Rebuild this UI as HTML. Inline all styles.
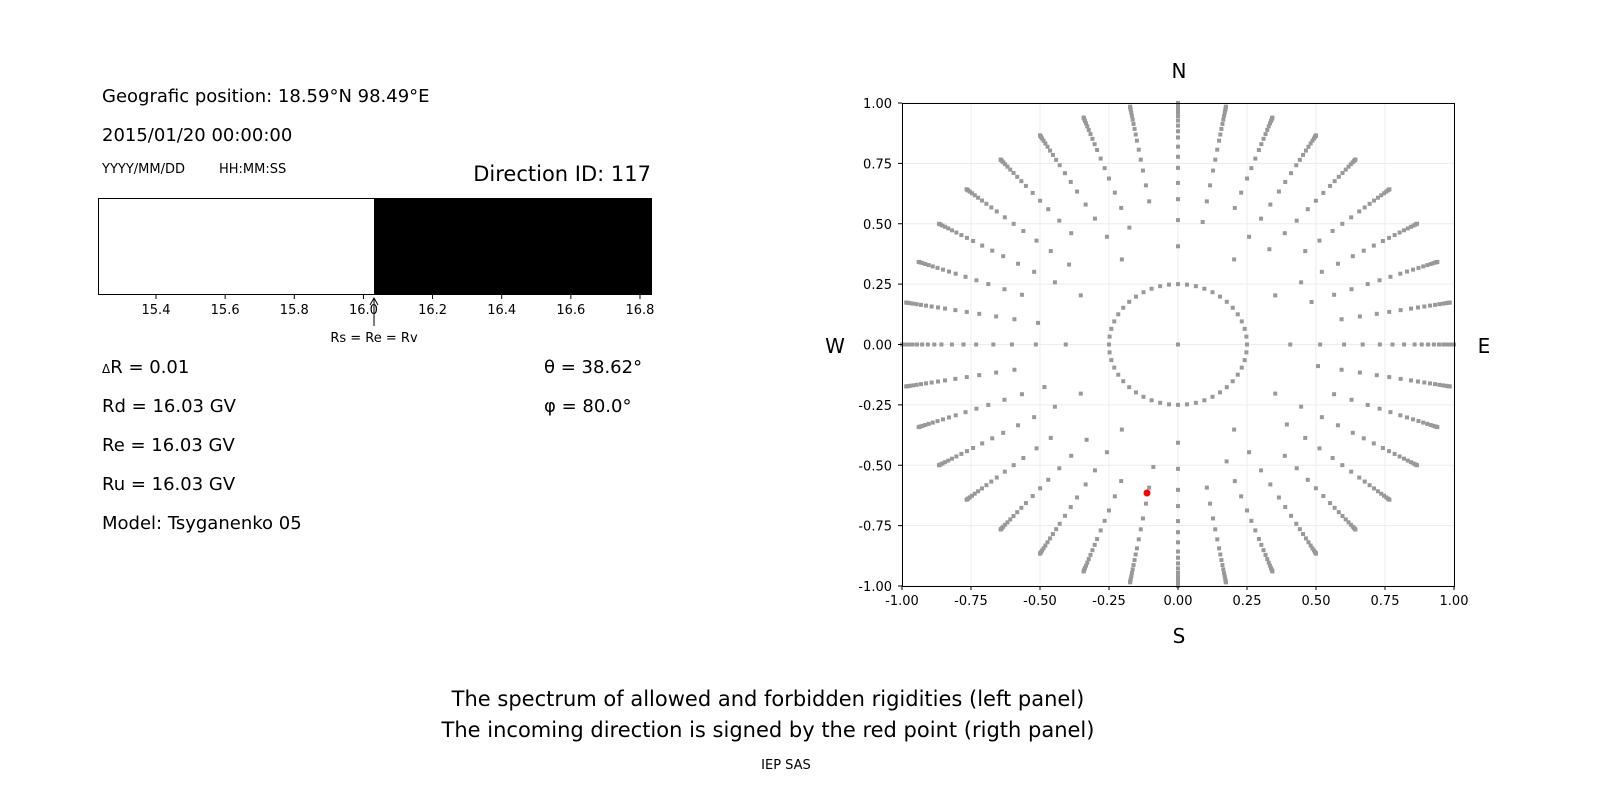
<!DOCTYPE html>
<html><head><meta charset="utf-8"><style>
body{margin:0;background:#fff;width:1600px;height:800px;overflow:hidden;font-family:"DejaVu Sans","Liberation Sans",sans-serif}
svg text{font-family:"DejaVu Sans","Liberation Sans",sans-serif}
</style></head><body>
<svg id="s" width="1600" height="800" xmlns="http://www.w3.org/2000/svg">
<rect width="1600" height="800" fill="#fff"/>
<text x="102" y="102" font-size="18">Geografic position: 18.59°N 98.49°E</text>
<text x="102" y="141" font-size="18">2015/01/20 00:00:00</text>
<text x="102" y="173" font-size="13">YYYY/MM/DD</text>
<text x="219" y="173" font-size="13">HH:MM:SS</text>
<text x="651" y="181" font-size="21" text-anchor="end">Direction ID: 117</text>
<rect x="98.5" y="198.5" width="553" height="96" fill="#fff" stroke="#000" stroke-width="1"/>
<rect x="374" y="198" width="278" height="97" fill="#000"/>
<g id="lt" font-size="13" text-anchor="middle"></g>
<line x1="374" y1="298" x2="374" y2="326" stroke="#000"/>
<path d="M370 305 L374 298 L378 305" fill="none" stroke="#000"/>
<text x="374" y="342" font-size="13" text-anchor="middle">Rs = Re = Rv</text>
<text x="102" y="373" font-size="18"><tspan font-size="12">Δ</tspan>R = 0.01</text>
<text x="102" y="412" font-size="18">Rd = 16.03 GV</text>
<text x="102" y="451" font-size="18">Re = 16.03 GV</text>
<text x="102" y="490" font-size="18">Ru = 16.03 GV</text>
<text x="102" y="529" font-size="18">Model: Tsyganenko 05</text>
<text x="544" y="373" font-size="18">θ = 38.62°</text>
<text x="544" y="412" font-size="18">φ = 80.0°</text>
<g id="grid"></g>
<g id="dots" fill="#999"></g>
<circle cx="1147" cy="493" r="3.5" fill="#f00"/>
<rect x="902.5" y="103.5" width="552" height="483" fill="none" stroke="#000"/>
<g id="rt" font-size="13"></g>
<text x="1179" y="78" font-size="20" text-anchor="middle">N</text>
<text x="1179" y="643" font-size="20" text-anchor="middle">S</text>
<text x="835" y="353" font-size="20" text-anchor="middle">W</text>
<text x="1484" y="353" font-size="20" text-anchor="middle">E</text>
<text x="768" y="706" font-size="21" text-anchor="middle">The spectrum of allowed and forbidden rigidities (left panel)</text>
<text x="768" y="737" font-size="21" text-anchor="middle">The incoming direction is signed by the red point (rigth panel)</text>
<text x="786" y="769" font-size="13" text-anchor="middle">IEP SAS</text>
</svg>
<script>
var NS="http://www.w3.org/2000/svg";
function el(t,a,p,txt){var e=document.createElementNS(NS,t);for(var k in a)e.setAttribute(k,a[k]);if(txt!==undefined)e.textContent=txt;document.getElementById(p).appendChild(e);}
var lv=[15.4,15.6,15.8,16.0,16.2,16.4,16.6,16.8];
lv.forEach(function(v){var x=156+(v-15.4)*345.7;el("line",{x1:x,y1:295,x2:x,y2:299,stroke:"#000"},"lt");el("text",{x:x,y:314},"lt",v.toFixed(1));});
function X(v){return 1178+v*276;}function Y(v){return 344.5-v*241.5;}
var tv=[-1,-0.75,-0.5,-0.25,0,0.25,0.5,0.75,1];
tv.forEach(function(v){
 el("line",{x1:X(v),y1:103,x2:X(v),y2:586,stroke:"#ececec"},"grid");
 el("line",{x1:902,y1:Y(v),x2:1454,y2:Y(v),stroke:"#ececec"},"grid");
 el("line",{x1:X(v),y1:586,x2:X(v),y2:590,stroke:"#000"},"rt");
 el("line",{x1:898,y1:Y(v),x2:902,y2:Y(v),stroke:"#000"},"rt");
 el("text",{x:X(v),y:605,"text-anchor":"middle"},"rt",v.toFixed(2));
 el("text",{x:892,y:Y(v)+5,"text-anchor":"end"},"rt",v.toFixed(2));
});
el("rect",{x:X(0)-2,y:Y(0)-2,width:4,height:4},"dots");
for(var i=0;i<48;i++){var a=i*Math.PI*2/48;el("rect",{x:X(0.25*Math.cos(a))-2,y:Y(0.25*Math.sin(a))-2,width:4,height:4},"dots");}
var th=[24,31,37,42,47,51,55,59,62,65,68,71,74,77,80,83,86,90];
for(var j=0;j<36;j++){var a=j*Math.PI/18;var st=(j%3==0)?0:((j%3==1)?1:2);
 for(var k=st;k<th.length;k++){var r=Math.sin(th[k]*Math.PI/180);
  el("rect",{x:X(r*Math.sin(a))-2,y:Y(r*Math.cos(a))-2,width:4,height:4},"dots");}}
</script>
</body></html>
